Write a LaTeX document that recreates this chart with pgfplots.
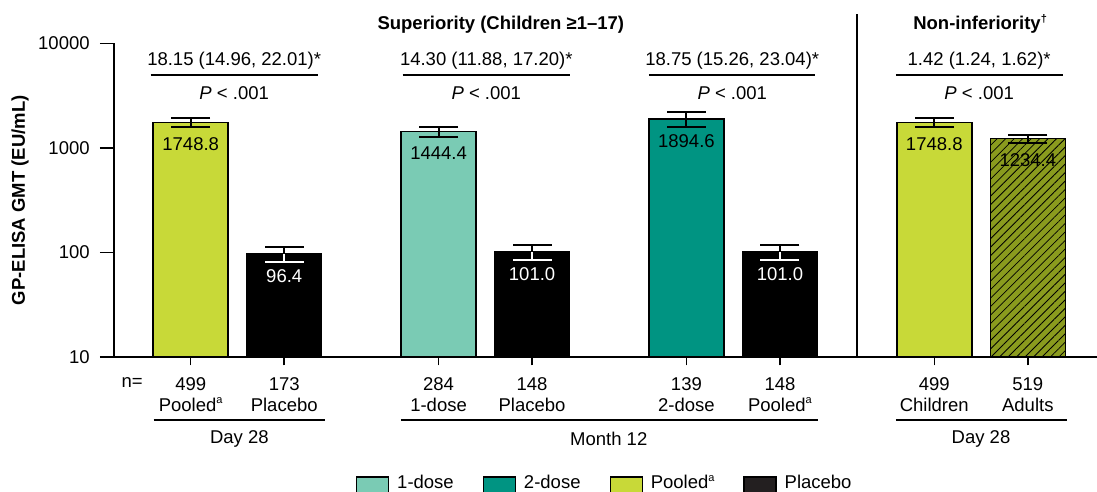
\documentclass[border=0pt]{standalone}
\usepackage{fontspec}
\setmainfont{Liberation Sans}
\usepackage{pgfplots}
\pgfplotsset{compat=1.18}
\usetikzlibrary{patterns.meta}
\definecolor{onedose}{RGB}{122,203,180}
\definecolor{twodose}{RGB}{0,148,130}
\definecolor{pooled}{RGB}{200,217,56}
\definecolor{adults}{RGB}{138,155,30}
\definecolor{legplacebo}{RGB}{35,31,32}
\newcommand{\supa}{\raisebox{0.75ex}{\fontsize{11}{11}\selectfont a}}
\pgfplotsset{
  boxlegend/.style={legend image code/.code={\draw[##1, line width=1.2pt, draw=black] (0pt,-14pt) rectangle (32pt,6pt);}},
  mybar/.style={ybar, bar width=75pt, bar shift=0pt, draw=black, line width=1.5pt, forget plot},
  ci/.style={forget plot, line width=2pt, mark=-, mark size=19.5pt, mark options={line width=2pt}},
}
\begin{document}
\fontsize{18.5}{21}\selectfont
\begin{tikzpicture}[font=\fontsize{18.5}{21}\selectfont]
\begin{axis}[name=ax, ymode=log, scale only axis, width=983pt, height=313.5pt,
  xmin=-0.82, xmax=9.69, ymin=10, ymax=10000, log origin y=infty,
  axis x line=bottom, axis y line=left,
  axis line style={line width=1.5pt, -},
  clip=false,
  xtick={0,1,2.65,3.65,5.3,6.3,7.95,8.95},
  xticklabels={{499\\Pooled\supa},{173\\Placebo},{284\\1-dose},{148\\Placebo},{139\\2-dose},{148\\Pooled\supa},{499\\Children},{519\\Adults}},
  xticklabel style={align=center, anchor=north, inner sep=0pt, yshift=-6pt},
  ytick={10,100,1000,10000}, yticklabels={10,100,1000,10000},
  yticklabel style={xshift=-4pt},
  yminorticks=false,
  tick align=outside, major tick length=14pt,
  tick style={line width=1.5pt, black},
  x tick style={/pgfplots/major tick length=8.5pt},
  /pgf/number format/assume math mode=true,
  legend style={at={(rel axis cs:0.2462,-0.3764)}, anchor=north west, draw=none, fill=none,
    inner sep=0pt, outer sep=0pt, legend columns=4,
    /tikz/every even column/.append style={column sep=29pt},
    /tikz/every odd column/.append style={column sep=8pt},
    nodes={inner sep=0pt}},
]
% bars (geometric means)
\addplot[mybar, fill=pooled] coordinates {(0,1748.8)};
\addplot[mybar, fill=black] coordinates {(1,96.4)};
\addplot[mybar, fill=onedose] coordinates {(2.65,1444.4)};
\addplot[mybar, fill=black] coordinates {(3.65,101.0)};
\addplot[mybar, fill=twodose] coordinates {(5.3,1894.6)};
\addplot[mybar, fill=black] coordinates {(6.3,101.0)};
\addplot[mybar, fill=pooled] coordinates {(7.95,1748.8)};
\addplot[mybar, fill=adults, postaction={pattern={Lines[angle=45,distance=6pt,line width=0.8pt]}, pattern color=black}] coordinates {(8.95,1234.4)};
% 95% CI whiskers (lower, upper)
\addplot[ci, black] coordinates {(0,1588) (0,1936)};
\addplot[ci, black] coordinates {(1,81.5) (1,114)};
\addplot[ci, black] coordinates {(2.65,1283) (2.65,1599)};
\addplot[ci, black] coordinates {(3.65,85) (3.65,117)};
\addplot[ci, black] coordinates {(5.3,1600) (5.3,2198)};
\addplot[ci, black] coordinates {(6.3,85) (6.3,117)};
\addplot[ci, black] coordinates {(7.95,1577) (7.95,1925)};
\addplot[ci, black] coordinates {(8.95,1124) (8.95,1340)};
% white lower part inside black bars
\addplot[ci, white, mark indices={1}] coordinates {(1,81.5) (1,96.4)};
\addplot[ci, white, mark indices={1}] coordinates {(3.65,85) (3.65,101.0)};
\addplot[ci, white, mark indices={1}] coordinates {(6.3,85) (6.3,101.0)};
% legend
\addlegendimage{boxlegend, fill=onedose}\addlegendentry{1-dose}
\addlegendimage{boxlegend, fill=twodose}\addlegendentry{2-dose}
\addlegendimage{boxlegend, fill=pooled}\addlegendentry{Pooled\supa}
\addlegendimage{boxlegend, fill=legplacebo}\addlegendentry{Placebo}
% value labels
\node[anchor=north, inner sep=0pt, yshift=-15pt] at (axis cs:0,1748.8) {1748.8};
\node[anchor=north, inner sep=0pt, yshift=-15pt, text=white] at (axis cs:1,96.4) {96.4};
\node[anchor=north, inner sep=0pt, yshift=-15pt] at (axis cs:2.65,1444.4) {1444.4};
\node[anchor=north, inner sep=0pt, yshift=-15pt, text=white] at (axis cs:3.65,101.0) {101.0};
\node[anchor=north, inner sep=0pt, yshift=-15pt] at (axis cs:5.3,1894.6) {1894.6};
\node[anchor=north, inner sep=0pt, yshift=-15pt, text=white] at (axis cs:6.3,101.0) {101.0};
\node[anchor=north, inner sep=0pt, yshift=-15pt] at (axis cs:7.95,1748.8) {1748.8};
\node[anchor=north, inner sep=0pt, yshift=-15pt] at (axis cs:8.95,1234.4) {1234.4};
% top annotations
\node at (axis cs:0.465,6808) {18.15 (14.96, 22.01)*};
\draw[line width=1.2pt] (axis cs:-0.428,5000) -- (axis cs:1.358,5000);
\node at (axis cs:0.465,3357) {\textit{P} < .001};
\node at (axis cs:3.16,6808) {14.30 (11.88, 17.20)*};
\draw[line width=1.2pt] (axis cs:2.267,5000) -- (axis cs:4.053,5000);
\node at (axis cs:3.16,3357) {\textit{P} < .001};
\node at (axis cs:5.79,6808) {18.75 (15.26, 23.04)*};
\draw[line width=1.2pt] (axis cs:4.9,5000) -- (axis cs:6.68,5000);
\node at (axis cs:5.79,3357) {\textit{P} < .001};
\node at (axis cs:8.43,6808) {1.42 (1.24, 1.62)*};
\draw[line width=1.2pt] (axis cs:7.54,5000) -- (axis cs:9.33,5000);
\node at (axis cs:8.43,3357) {\textit{P} < .001};
% titles
\node[font=\fontsize{18.5}{21}\selectfont\bfseries] at (axis cs:3.316,15030) {Superiority (Children ≥1–17)};
\node[font=\fontsize{18.5}{21}\selectfont\bfseries] at (axis cs:8.44,15500) {Non-inferiority\raisebox{0.75ex}{\fontsize{11}{11}\selectfont †}};
\draw[line width=1.5pt] (axis cs:7.123,19140) -- (axis cs:7.123,10.3);
% y label
\node[rotate=90, font=\fontsize{18.5}{21}\selectfont\bfseries] at ([xshift=-94pt]rel axis cs:0,0.5) {GP-ELISA GMT (EU/mL)};
% bottom labels
\node at ([yshift=-26pt]axis cs:-0.626,10) {n=};
\draw[line width=1.2pt] ([yshift=-63pt]axis cs:-0.396,10) -- ([yshift=-63pt]axis cs:1.433,10);
\node at ([yshift=-82pt]axis cs:0.52,10) {Day 28};
\draw[line width=1.2pt] ([yshift=-63pt]axis cs:2.246,10) -- ([yshift=-63pt]axis cs:6.706,10);
\node at ([yshift=-82pt]axis cs:4.47,10) {Month 12};
\draw[line width=1.2pt] ([yshift=-63pt]axis cs:7.54,10) -- ([yshift=-63pt]axis cs:9.37,10);
\node at ([yshift=-82pt]axis cs:8.45,10) {Day 28};
\end{axis}
\pgfresetboundingbox
\path (ax.south west) ++(-114pt,-134pt) rectangle ++(1097pt,491pt);
\end{tikzpicture}
\end{document}
